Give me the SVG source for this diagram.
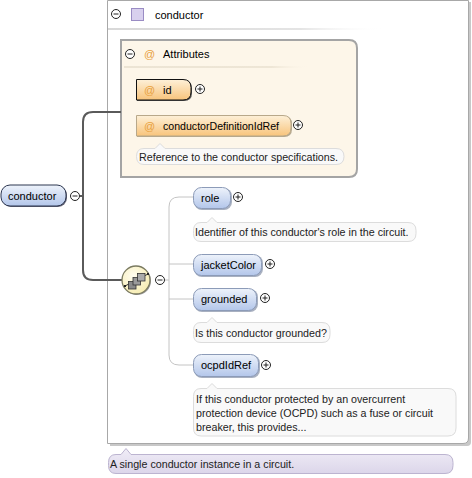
<svg xmlns="http://www.w3.org/2000/svg" xmlns:xlink="http://www.w3.org/1999/xlink" width="472" height="478" viewBox="0 0 472 478">
<defs>
<style>
text{font-family:"Liberation Sans",Arial,sans-serif;font-size:11px;fill:#000}
.ann text{font-size:10.7px;fill:#222}
.attrtxt{font-size:10.6px}
.el{fill:url(#gBlue);stroke:#8c9bb8;stroke-width:1}
.attr{fill:url(#gOrange);stroke:#b8a88a;stroke-width:1}
.at{fill:#e8a03c}
.annbox{fill:#f9f9f9;stroke:#dcdcdc;stroke-width:1}
.pm circle{fill:#fff;stroke:#222;stroke-width:1}
.pm line{stroke:#222;stroke-width:1}
.main{fill:none;stroke:#5a5a5a;stroke-width:2}
.child{fill:none;stroke:#c4c4c4;stroke-width:1}
</style>
<linearGradient id="gBlue" x1="0" y1="0" x2="0" y2="1"><stop offset="0" stop-color="#eef3fb"/><stop offset="1" stop-color="#b3c6ea"/></linearGradient>
<linearGradient id="gOrange" x1="0" y1="0" x2="0" y2="1"><stop offset="0" stop-color="#fdf0d8"/><stop offset="1" stop-color="#f8c47c"/></linearGradient>
<linearGradient id="gLav" x1="0" y1="0" x2="0" y2="1"><stop offset="0" stop-color="#f0edf7"/><stop offset="1" stop-color="#dcd6ea"/></linearGradient>
<linearGradient id="gSep" x1="0" y1="0" x2="1" y2="0"><stop offset="0" stop-color="#d8d8d8"/><stop offset="0.7" stop-color="#e4e4e4"/><stop offset="1" stop-color="#ffffff" stop-opacity="0"/></linearGradient>
<linearGradient id="gSep2" x1="0" y1="0" x2="1" y2="0"><stop offset="0" stop-color="#ece4d4"/><stop offset="0.8" stop-color="#eee6d6"/><stop offset="1" stop-color="#fdf6e9" stop-opacity="0"/></linearGradient>
<radialGradient id="gSeq" cx="0.4" cy="0.35" r="0.7"><stop offset="0" stop-color="#fffdf0"/><stop offset="1" stop-color="#f6ecb0"/></radialGradient>
<g id="minus" class="pm"><circle cx="0" cy="0" r="4.5"/><line x1="-2.5" y1="0" x2="2.5" y2="0"/></g>
<g id="plus" class="pm"><circle cx="0" cy="0" r="4.5"/><line x1="-2.5" y1="0" x2="2.5" y2="0"/><line x1="0" y1="-2.5" x2="0" y2="2.5"/></g>
</defs>
<rect width="472" height="478" fill="#fff"/>

<g id="outer">
<path d="M110,2 H471 V442 Q471,446 467,446 H110 Z" fill="#c8c8c8"/>
<path d="M107.5,0.5 H468.5 V438 Q468.5,443.5 463,443.5 H107.5 Z" fill="#fff" stroke="#a8a8a8" stroke-width="1"/>
<use xlink:href="#minus" x="116" y="14"/>
<rect x="131.5" y="8.5" width="12" height="12" fill="#d8d0ee" stroke="#9a8cc4"/>
<text x="155" y="19">conductor</text>
<rect x="108" y="28" width="275" height="2" fill="url(#gSep)"/>
</g>

<g id="attributes">
<path d="M121,40 H349 Q357,40 357,48 V169 Q357,177 349,177 H121 Z" fill="#fdf6e9" stroke="#a4a4a4" stroke-width="2"/>
<use xlink:href="#minus" x="130" y="54"/>
<text class="at" x="144" y="58">@</text>
<text x="163" y="58">Attributes</text>
<rect x="124" y="66" width="185" height="2" fill="url(#gSep2)"/>
</g>

<g id="attr-id">
<path d="M137,80.5 H184 Q192,80.5 192,88.5 V93 Q192,101 184,101 H137 Z" fill="#555"/>
<path d="M136.5,79.5 H183 Q191,79.5 191,87.5 V92 Q191,100 183,100 H136.5 Z" fill="url(#gOrange)" stroke="#111" stroke-width="1"/>
<text class="at" x="144" y="94">@</text>
<text x="163" y="94">id</text>
<use xlink:href="#plus" x="200" y="89"/>
</g>

<g id="attr-conductorDefinitionIdRef">
<path d="M137,116 H284 Q292,116 292,124 V129 Q292,137 284,137 H137 Z" fill="#b4a890"/>
<path d="M136.5,115.5 H283 Q291,115.5 291,123.5 V128 Q291,136 283,136 H136.5 Z" class="attr"/>
<text class="at" x="144" y="130">@</text>
<text class="attrtxt" x="163" y="130">conductorDefinitionIdRef</text>
<use xlink:href="#plus" x="298" y="125"/>
</g>

<g id="ann-attr" class="ann">
<path d="M144,148.5 H155 L160,143.5 L165,148.5 H336 Q344,148.5 344,156.5 Q344,164.5 336,164.5 H144 Q136.5,164.5 136.5,156.5 Q136.5,148.5 144,148.5 Z" class="annbox"/>
<text x="139" y="160.5">Reference to the conductor specifications.</text>
</g>

<g id="connectors">
<path class="main" d="M80,196 H83 M121,112 H93 Q83,112 83,122 V270 Q83,280 93,280 H122"/>
<path class="child" d="M165,280 H169 M193,197 H179 Q169,197 169,207 V355 Q169,365 179,365 H193 M169,264 H193 M169,299 H193"/>
</g>

<g id="node-conductor">
<rect x="2" y="186" width="65" height="21" rx="9" fill="#667"/>
<rect x="1" y="185" width="65" height="21" rx="9" fill="url(#gBlue)" stroke="#2c3650" stroke-width="1"/>
<text x="8" y="200">conductor</text>
<use xlink:href="#minus" x="75" y="196"/>
</g>

<g id="sequence">
<circle cx="137" cy="281" r="14" fill="#999"/>
<circle cx="136" cy="280" r="14" fill="url(#gSeq)" stroke="#7a7a60" stroke-width="1.3"/>
<line x1="125" y1="286" x2="148" y2="274" stroke="#333" stroke-width="1"/>
<rect x="124" y="285" width="2" height="2" fill="#222"/>
<rect x="147" y="273" width="2" height="2" fill="#222"/>
<rect x="128.5" y="281.5" width="7.5" height="7.5" fill="#8a8a8a" stroke="#333" stroke-width="0.8"/>
<rect x="133" y="277.5" width="7.5" height="7.5" fill="#9a9a9a" stroke="#333" stroke-width="0.8"/>
<rect x="137.5" y="273.5" width="7.5" height="7.5" fill="#aaa" stroke="#333" stroke-width="0.8"/>
<use xlink:href="#minus" x="160" y="280"/>
</g>

<g id="node-role">
<rect x="194" y="188" width="38" height="22" rx="8" fill="#a8b0c0"/>
<rect x="193.5" y="187.5" width="37" height="21" rx="8" class="el"/>
<text x="201" y="202">role</text>
<use xlink:href="#plus" x="238" y="197"/>
</g>
<g id="ann-role" class="ann">
<path d="M201,222.5 H207 L212,217.5 L217,222.5 H408 Q416,222.5 416,230.5 V233.5 Q416,241.5 408,241.5 H201 Q193.5,241.5 193.5,233.5 V230.5 Q193.5,222.5 201,222.5 Z" class="annbox"/>
<text x="195" y="235.5">Identifier of this conductor's role in the circuit.</text>
</g>

<g id="node-jacketColor">
<rect x="194" y="255" width="69" height="22" rx="8" fill="#a8b0c0"/>
<rect x="193.5" y="254.5" width="68" height="21" rx="8" class="el"/>
<text x="201" y="269">jacketColor</text>
<use xlink:href="#plus" x="270" y="264"/>
</g>

<g id="node-grounded">
<rect x="194" y="289" width="64" height="23" rx="8" fill="#a8b0c0"/>
<rect x="193.5" y="288.5" width="63" height="22" rx="8" class="el"/>
<text x="201" y="303">grounded</text>
<use xlink:href="#plus" x="265" y="298"/>
</g>
<g id="ann-grounded" class="ann">
<path d="M201,322.5 H207 L212,317.5 L217,322.5 H322 Q330,322.5 330,330.5 V334.5 Q330,342.5 322,342.5 H201 Q193.5,342.5 193.5,334.5 V330.5 Q193.5,322.5 201,322.5 Z" class="annbox"/>
<text x="195" y="336.5">Is this conductor grounded?</text>
</g>

<g id="node-ocpdIdRef">
<rect x="194" y="355" width="66" height="23" rx="8" fill="#a8b0c0"/>
<rect x="193.5" y="354.5" width="65" height="22" rx="8" class="el"/>
<text x="201" y="369">ocpdIdRef</text>
<use xlink:href="#plus" x="266" y="365"/>
</g>
<g id="ann-ocpdIdRef" class="ann">
<path d="M201,388.5 H207 L212,383.5 L217,388.5 H448 Q456,388.5 456,396.5 V428 Q456,436 448,436 H201 Q193.5,436 193.5,428 V396.5 Q193.5,388.5 201,388.5 Z" class="annbox"/>
<text x="196" y="403">If this conductor protected by an overcurrent</text>
<text x="196" y="417">protection device (OCPD) such as a fuse or circuit</text>
<text x="196" y="431">breaker, this provides...</text>
</g>

<g id="ann-conductor" class="ann">
<path d="M116,454.5 H121 L126,448.5 L131,454.5 H445 Q453,454.5 453,462.5 V465.5 Q453,473.5 445,473.5 H116 Q108.5,473.5 108.5,465.5 V462.5 Q108.5,454.5 116,454.5 Z" fill="url(#gLav)" stroke="#bcb4d0" stroke-width="1"/>
<text x="110" y="468">A single conductor instance in a circuit.</text>
</g>
</svg>
